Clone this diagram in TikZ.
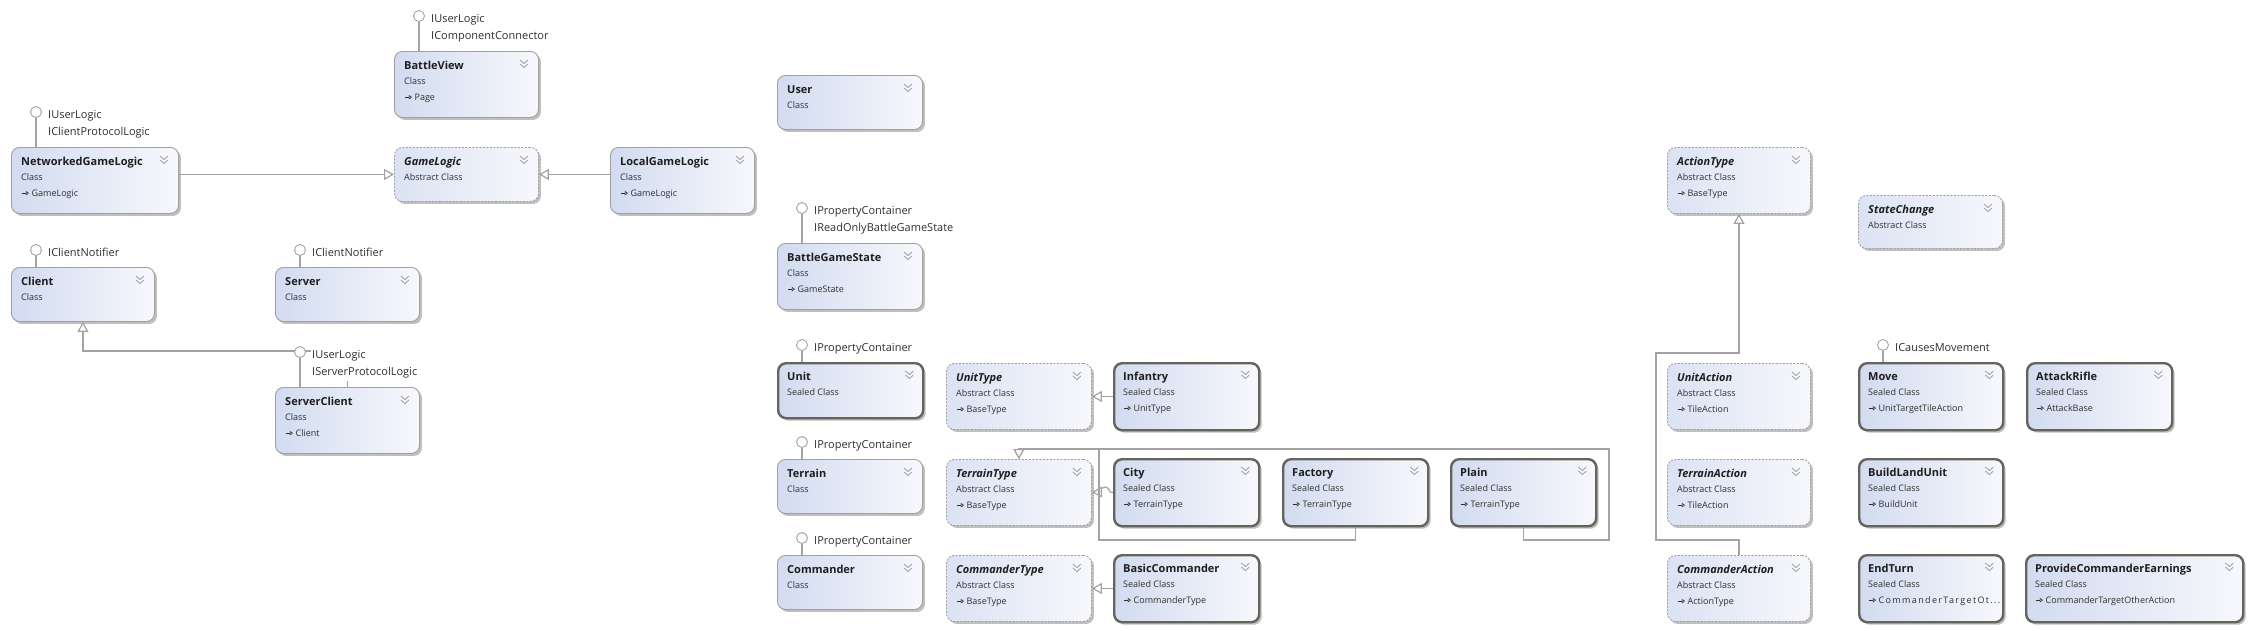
\documentclass[tikz,border=0pt]{standalone}
\usepackage{fontspec}
\setmainfont{Open Sans}
\usetikzlibrary{arrows.meta,shadows}
\definecolor{boxL}{HTML}{D2DBF0}
\definecolor{boxR}{HTML}{F7F8FC}
\definecolor{clsborder}{HTML}{A0A0A0}
\definecolor{sealborder}{HTML}{65645C}
\definecolor{conncol}{HTML}{A3A3A3}
\definecolor{txt}{HTML}{1E1E1E}
\definecolor{subtxt}{HTML}{303030}
\tikzset{
 boxbase/.style={rectangle, rounded corners=8pt, left color=boxL, right color=boxR,
   drop shadow={shadow xshift=2.5pt, shadow yshift=-2.5pt, opacity=0.25, fill=black}, inner sep=0pt},
 clsbox/.style={boxbase, draw=clsborder, line width=0.9pt},
 sealbox/.style={boxbase, draw=sealborder, line width=2.4pt},
 absbox/.style={boxbase, draw=clsborder, line width=0.9pt, dash pattern=on 2pt off 1.5pt, left color=boxL!80!white},
 titletext/.style={font=\fontsize{11}{13}\selectfont\bfseries, text=txt, inner sep=0pt},
 subtext/.style={font=\fontsize{9}{11}\selectfont, text=subtxt, inner sep=0pt},
 ilabel/.style={font=\fontsize{11}{13}\selectfont, text=subtxt, fill=white, inner xsep=1pt, inner ysep=3pt},
 iface/.style={circle, draw=conncol, fill=white, line width=0.9pt, minimum size=11pt, inner sep=0pt},
 stem/.style={draw=conncol, line width=1.1pt},
 conn/.style={draw=conncol, line width=1.2pt, -{Triangle[open, length=10pt, width=11pt, fill=white]}},
 chevst/.style={draw=gray!75, line width=0.8pt},
}
\newcommand{\inhg}{\tikz[baseline=-0.6ex]\draw[line width=0.6pt,-{Triangle[open,length=3.2pt,width=4.4pt]}] (0pt,0pt)--(7.5pt,0pt);}
\newcommand{\umlcls}[9]{%
 \node[#2, minimum width=#5pt, minimum height=#6pt, anchor=north west] (#1) at (#3,#4) {};
 \node[titletext, anchor=base west] (#1T) at ([xshift=10pt, yshift=-18pt]#1.north west) {#7};
 \node[subtext, anchor=base west] (#1K) at ([xshift=10pt, yshift=-33pt]#1.north west) {#8};
 \def\umlbase{#9}\ifx\umlbase\empty\else
 \node[subtext, anchor=base west] (#1B) at ([xshift=10pt, yshift=-49pt]#1.north west) {\inhg\ #9};
 \fi
 \draw[chevst] ([xshift=-19pt, yshift=-9pt]#1.north east) -- ++(4pt,-3.5pt) -- ++(4pt,3.5pt)
   ([xshift=-19pt, yshift=-13pt]#1.north east) -- ++(4pt,-3.5pt) -- ++(4pt,3.5pt);
}
\newcommand{\lolA}[2]{%
 \node[iface] (#1I) at ([xshift=25pt, yshift=17pt]#1.north west) {};
 \draw[stem] (#1I.south) -- (#1I.south |- #1.north);
 \node[ilabel, anchor=base west] (#1L) at ([xshift=11pt, yshift=-6pt]#1I.center) {#2};
}
\newcommand{\lolB}[3]{%
 \node[iface] (#1I) at ([xshift=25pt, yshift=35pt]#1.north west) {};
 \draw[stem] (#1I.south) -- (#1I.south |- #1.north);
 \node[ilabel, anchor=base west] (#1L) at ([xshift=11pt, yshift=-6.5pt]#1I.center) {#2};
 \node[ilabel, anchor=base west] (#1M) at ([xshift=11pt, yshift=-23.5pt]#1I.center) {#3};
}
\begin{document}
\begin{tikzpicture}[x=1pt, y=-1pt]
\fill[white] (0,0) rectangle (2251,630);
\useasboundingbox (0,0) rectangle (2251,630);
% boxes
\umlcls{BattleView}{clsbox}{394}{51}{144}{66}{BattleView}{Class}{Page}
\umlcls{NetworkedGameLogic}{clsbox}{11}{147}{167}{66}{NetworkedGameLogic}{Class}{GameLogic}
\umlcls{GameLogic}{absbox}{394}{147}{144}{54}{\textit{GameLogic}}{Abstract Class}{}
\umlcls{LocalGameLogic}{clsbox}{610}{147}{144}{66}{LocalGameLogic}{Class}{GameLogic}
\umlcls{Client}{clsbox}{11}{267}{143}{54}{Client}{Class}{}
\umlcls{Server}{clsbox}{275}{267}{144}{54}{Server}{Class}{}
\umlcls{ServerClient}{clsbox}{275}{387}{144}{66}{ServerClient}{Class}{Client}
\umlcls{User}{clsbox}{777}{75}{145}{54}{User}{Class}{}
\umlcls{BattleGameState}{clsbox}{777}{243}{145}{66}{BattleGameState}{Class}{GameState}
\umlcls{Unit}{sealbox}{777}{362}{145}{55}{Unit}{Sealed Class}{}
\umlcls{Terrain}{clsbox}{777}{459}{145}{54}{Terrain}{Class}{}
\umlcls{Commander}{clsbox}{777}{555}{145}{54}{Commander}{Class}{}
\umlcls{UnitType}{absbox}{946}{363}{145}{66}{\textit{UnitType}}{Abstract Class}{BaseType}
\umlcls{TerrainType}{absbox}{946}{459}{145}{66}{\textit{TerrainType}}{Abstract Class}{BaseType}
\umlcls{CommanderType}{absbox}{946}{555}{145}{66}{\textit{CommanderType}}{Abstract Class}{BaseType}
\umlcls{Infantry}{sealbox}{1113}{362}{145}{67}{Infantry}{Sealed Class}{UnitType}
\umlcls{City}{sealbox}{1113}{458}{145}{67}{City}{Sealed Class}{TerrainType}
\umlcls{Factory}{sealbox}{1282}{458}{145}{67}{Factory}{Sealed Class}{TerrainType}
\umlcls{Plain}{sealbox}{1450}{458}{145}{67}{Plain}{Sealed Class}{TerrainType}
\umlcls{BasicCommander}{sealbox}{1113}{554}{145}{67}{BasicCommander}{Sealed Class}{CommanderType}
\umlcls{ActionType}{absbox}{1667}{147}{143}{66}{\textit{ActionType}}{Abstract Class}{BaseType}
\umlcls{StateChange}{absbox}{1858}{195}{144}{53}{\textit{StateChange}}{Abstract Class}{}
\umlcls{UnitAction}{absbox}{1667}{363}{143}{66}{\textit{UnitAction}}{Abstract Class}{TileAction}
\umlcls{TerrainAction}{absbox}{1667}{459}{143}{66}{\textit{TerrainAction}}{Abstract Class}{TileAction}
\umlcls{CommanderAction}{absbox}{1667}{555}{143}{66}{\textit{CommanderAction}}{Abstract Class}{ActionType}
\umlcls{Move}{sealbox}{1858}{362}{144}{67}{Move}{Sealed Class}{UnitTargetTileAction}
\umlcls{AttackRifle}{sealbox}{2026}{362}{145}{67}{AttackRifle}{Sealed Class}{AttackBase}
\umlcls{BuildLandUnit}{sealbox}{1858}{458}{144}{67}{BuildLandUnit}{Sealed Class}{BuildUnit}
\umlcls{EndTurn}{sealbox}{1858}{554}{144}{67}{EndTurn}{Sealed Class}{{\addfontfeature{LetterSpace=15}CommanderTargetOt...}}
\umlcls{ProvideCommanderEarnings}{sealbox}{2025}{554}{217}{67}{ProvideCommanderEarnings}{Sealed Class}{CommanderTargetOtherAction}
% helper coordinates
\coordinate (scbend) at (0,351);
\coordinate (tvert) at (1099,449);
\coordinate (tright) at (1609,449);
\coordinate (tbot) at (0,540);
\coordinate (hopR) at (1110,492);
\coordinate (abot) at (1656,540);
\coordinate (amid) at (1656,353);
% connectors
\draw[conn] (NetworkedGameLogic.east |- GameLogic.west) -- (GameLogic.west);
\draw[conn] (LocalGameLogic.west |- GameLogic.east) -- (GameLogic.east);
\draw[conn] (ServerClient.north) |- (scbend -| Client.south) -- (Client.south);
\draw[conn] (Infantry.west |- UnitType.east) -- (UnitType.east);
\draw[conn] (City.west |- TerrainType.east) -- (hopR) arc[start angle=0, end angle=180, radius=5pt] -- (TerrainType.east);
\draw[conn] (Factory.south) -- (Factory.south |- tbot) -| (tvert) -| (TerrainType.north);
\draw[conn] (Plain.south) -- (Plain.south |- tbot) -| (tright) -| (TerrainType.north);
\draw[conn] (BasicCommander.west |- CommanderType.east) -- (CommanderType.east);
\draw[conn] (CommanderAction.north) |- (abot) -- (amid) -| (ActionType.south);
% interfaces
\lolB{BattleView}{IUserLogic}{IComponentConnector}
\lolB{NetworkedGameLogic}{IUserLogic}{IClientProtocolLogic}
\lolA{Client}{IClientNotifier}
\lolA{Server}{IClientNotifier}
\lolB{ServerClient}{IUserLogic}{IServerProtocolLogic}
\lolB{BattleGameState}{IPropertyContainer}{IReadOnlyBattleGameState}
\lolA{Unit}{IPropertyContainer}
\lolA{Terrain}{IPropertyContainer}
\lolA{Commander}{IPropertyContainer}
\lolA{Move}{ICausesMovement}
\end{tikzpicture}
\end{document}
